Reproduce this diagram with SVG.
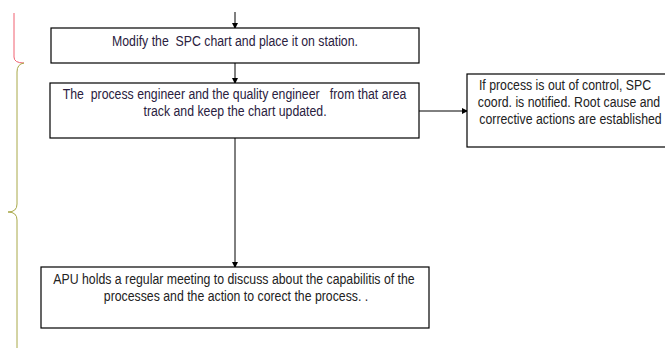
<svg xmlns="http://www.w3.org/2000/svg" width="665" height="349" viewBox="0 0 665 349">
<defs>
<marker id="ah" markerWidth="6" markerHeight="6" refX="5" refY="3" orient="auto" markerUnits="userSpaceOnUse"><path d="M0,0 L6,3 L0,6 Z" fill="#000"/></marker>
<style>
.box{fill:#fff;stroke:#000;stroke-width:1.2}
.t{font-family:"Liberation Sans",Arial,sans-serif;font-size:15px;fill:#222;text-anchor:middle;white-space:pre}
.p{fill:#2a2140}
.c{stroke:#000;stroke-width:1;fill:none;marker-end:url(#ah)}
</style>
</defs>
<rect width="665" height="349" fill="#fff"/>
<path d="M14,13 L14,57 Q14,63 24,63" fill="none" stroke="#f06070" stroke-width="1"/>
<path d="M24,63 Q17,64 17,72 L17,204 Q17,212 8,212 Q17,212 17,220 L17,348" fill="none" stroke="#a8a848" stroke-width="1"/>
<g id="connectors">
<line class="c" x1="235" y1="12" x2="235" y2="28"/>
<line class="c" x1="235" y1="63" x2="235" y2="83"/>
<line class="c" x1="235" y1="138" x2="235" y2="267"/>
<line class="c" x1="419" y1="111" x2="467" y2="111"/>
</g>
<g id="n1">
<rect class="box" x="51" y="28" width="368" height="35"/>
<text class="t p" transform="translate(235,46) scale(0.82,1)">Modify the  SPC chart and place it on station.</text>
</g>
<g id="n2">
<rect class="box" x="50" y="83" width="369" height="55"/>
<text class="t p" transform="translate(234.5,99) scale(0.82,1)">The  process engineer and the quality engineer   from that area</text>
<text class="t p" transform="translate(235,116) scale(0.82,1)">track and keep the chart updated.</text>
</g>
<g id="n3">
<rect class="box" x="467" y="74" width="205" height="73"/>
<text class="t" transform="translate(565,90) scale(0.82,1)">If process is out of control, SPC</text>
<text class="t" transform="translate(569,107) scale(0.82,1)">coord. is notified. Root cause and</text>
<text class="t" transform="translate(570.5,124) scale(0.82,1)">corrective actions are established</text>
</g>
<g id="n4">
<rect class="box" x="41" y="267" width="388" height="61"/>
<text class="t" transform="translate(234,284) scale(0.82,1)">APU holds a regular meeting to discuss about the capabilitis of the</text>
<text class="t" transform="translate(236,301) scale(0.82,1)">processes and the action to corect the process. .</text>
</g>
</svg>
